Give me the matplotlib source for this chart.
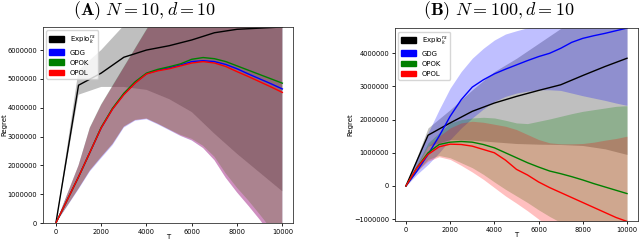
import matplotlib
matplotlib.use('Agg')
import matplotlib.pyplot as plt
from matplotlib.patches import Patch
import numpy as np

# x grids
T_coarse = [0, 1000, 2000, 3000, 4000, 5000, 6000, 7000, 8000, 9000, 10000]
T_fine = [0, 500, 1000, 1500, 2000, 2500, 3000, 3500, 4000, 4500, 5000,
          5500, 6000, 6500, 7000, 7500, 8000, 8500, 9000, 9500, 10000]

# ---- panel A (values in millions) ----
A_explo = [0, 4.78, 5.2, 5.75, 6.0, 6.15, 6.35, 6.6, 6.72, 6.76, 6.8]
A_explo_lo = [0, 4.45, 4.72, 4.72, 4.62, 4.3, 3.85, 3.1, 2.4, 1.75, 1.1]
A_explo_hi = [0, 5.3, 6.0, 6.85, 7.6, 8.2, 8.7, 9.2, 9.6, 10.0, 10.3]

A_gdg = [0, 0.8, 1.6, 2.45, 3.3, 3.96, 4.47, 4.87, 5.18, 5.3, 5.38,
         5.48, 5.6, 5.63, 5.6, 5.5, 5.35, 5.17, 5.0, 4.83, 4.65]
A_gdg_lo = [0, 0.58, 1.17, 1.79, 2.25, 2.7, 3.31, 3.55, 3.6, 3.42, 3.22,
            3.02, 2.86, 2.6, 2.18, 1.57, 1.06, 0.6, 0.12, -0.4, -0.9]
A_gdg_hi = [0, 1.0, 2.0, 3.3, 4.1, 4.75, 5.4, 6.05, 6.7, 7.3, 7.9,
            8.4, 8.9, 9.3, 9.7, 10.0, 10.3, 10.6, 10.9, 11.2, 11.5]

A_opok = [0, 0.8, 1.6, 2.45, 3.32, 3.98, 4.5, 4.9, 5.2, 5.33, 5.42,
          5.52, 5.68, 5.74, 5.7, 5.6, 5.45, 5.3, 5.15, 5.0, 4.85]
A_opok_lo = [0, 0.6, 1.2, 1.83, 2.3, 2.75, 3.35, 3.58, 3.63, 3.45, 3.25,
             3.06, 2.92, 2.68, 2.3, 1.72, 1.22, 0.78, 0.3, -0.2, -0.7]
A_opok_hi = [0, 1.0, 2.0, 3.32, 4.12, 4.77, 5.42, 6.07, 6.72, 7.32, 7.92,
             8.42, 8.92, 9.32, 9.72, 10.0, 10.3, 10.6, 10.9, 11.2, 11.5]

A_opol = [0, 0.8, 1.6, 2.45, 3.3, 3.95, 4.45, 4.85, 5.17, 5.28, 5.35,
          5.45, 5.55, 5.6, 5.55, 5.43, 5.25, 5.08, 4.9, 4.72, 4.53]
A_opol_lo = [0, 0.6, 1.2, 1.82, 2.29, 2.74, 3.34, 3.57, 3.62, 3.44, 3.24,
             3.03, 2.87, 2.6, 2.18, 1.57, 1.06, 0.6, 0.12, -0.4, -0.9]
A_opol_hi = [0, 1.0, 2.0, 3.3, 4.1, 4.75, 5.4, 6.05, 6.7, 7.3, 7.9,
             8.4, 8.9, 9.3, 9.7, 10.0, 10.3, 10.6, 10.9, 11.2, 11.5]

# ---- panel B (values in millions) ----
B_explo = [0, 1.53, 1.9, 2.25, 2.5, 2.7, 2.88, 3.05, 3.33, 3.6, 3.85]
B_explo_lo = [0, 1.2, 1.4, 1.38, 1.33, 1.28, 1.26, 1.25, 1.22, 1.12, 0.95]
B_explo_hi = [0, 1.75, 2.3, 2.9, 3.45, 3.85, 4.3, 4.75, 5.2, 5.6, 6.0]

B_gdg = [0, 0.45, 0.95, 1.5, 2.1, 2.6, 2.98, 3.2, 3.38, 3.52, 3.65,
         3.78, 3.9, 4.0, 4.15, 4.33, 4.45, 4.53, 4.6, 4.68, 4.76]
B_gdg_lo = [0, 0.35, 0.65, 1.0, 1.4, 1.75, 2.05, 2.32, 2.55, 2.7, 2.8,
            2.86, 2.9, 2.9, 2.88, 2.8, 2.72, 2.65, 2.58, 2.5, 2.43]
B_gdg_hi = [0, 0.8, 1.6, 2.3, 2.95, 3.45, 3.85, 4.15, 4.4, 4.58, 4.68,
            4.77, 4.85, 4.92, 5.0, 5.1, 5.2, 5.3, 5.4, 5.5, 5.6]

B_opok = [0, 0.55, 1.0, 1.25, 1.32, 1.34, 1.32, 1.25, 1.15, 1.0, 0.85,
          0.7, 0.57, 0.45, 0.37, 0.28, 0.18, 0.07, -0.03, -0.13, -0.23]
B_opok_lo = [0, 0.45, 0.8, 0.92, 0.85, 0.7, 0.55, 0.35, 0.12, -0.1, -0.3,
             -0.5, -0.72, -0.92, -1.1, -1.3, -1.5, -1.7, -1.9, -2.1, -2.3]
B_opok_hi = [0, 0.65, 1.3, 1.6, 1.9, 2.0, 2.05, 2.07, 2.05, 1.98, 1.9,
             1.88, 1.95, 2.02, 2.1, 2.18, 2.25, 2.3, 2.35, 2.4, 2.42]

B_opol = [0, 0.55, 0.95, 1.18, 1.26, 1.25, 1.2, 1.1, 1.0, 0.78, 0.5,
          0.33, 0.12, -0.05, -0.2, -0.35, -0.5, -0.65, -0.8, -0.95, -1.07]
B_opol_lo = [0, 0.45, 0.75, 0.88, 0.8, 0.62, 0.42, 0.2, -0.05, -0.3, -0.52,
             -0.75, -1.0, -1.25, -1.5, -1.75, -2.0, -2.2, -2.4, -2.6, -2.8]
B_opol_hi = [0, 0.65, 1.2, 1.5, 1.75, 1.9, 1.95, 1.92, 1.86, 1.8, 1.7,
             1.55, 1.4, 1.3, 1.27, 1.27, 1.28, 1.32, 1.38, 1.43, 1.5]

labels = ['Explo$^{rs}_{k}$', 'GDG', 'OPOK', 'OPOL']
colors = ['black', 'blue', 'green', 'red']

M = 1e6

fig = plt.figure(figsize=(6.4, 2.42), dpi=100)
axA = fig.add_axes([0.067, 0.0785, 0.391, 0.81])
axB = fig.add_axes([0.617, 0.087, 0.38, 0.797])


def draw(ax, series):
    # bands first, then the mean curves
    for (x, m, lo, hi), c in zip(series, colors):
        ax.fill_between(x, np.array(lo) * M, np.array(hi) * M, color=c, alpha=0.25, linewidth=0)
    for (x, m, lo, hi), c in zip(series, colors):
        ax.plot(x, np.array(m) * M, color=c, linewidth=1.0)
    handles = [Patch(color=c, label=l) for c, l in zip(colors, labels)]
    ax.legend(handles=handles, loc='upper left', fontsize=5, handlelength=2.2,
              handleheight=0.9, borderaxespad=0.5, labelspacing=0.55)
    ax.set_xticks([0, 2000, 4000, 6000, 8000, 10000])
    ax.ticklabel_format(style='plain', useOffset=False)
    ax.tick_params(labelsize=4.8, length=2.5, width=0.6, pad=1.5)
    ax.set_xlabel('T', fontsize=5, labelpad=-0.5)
    ax.set_ylabel('Regret', fontsize=5, labelpad=0.5)
    for s in ax.spines.values():
        s.set_linewidth(0.6)
        s.set_color('#333333')


draw(axA, [(T_coarse, A_explo, A_explo_lo, A_explo_hi),
           (T_fine, A_gdg, A_gdg_lo, A_gdg_hi),
           (T_fine, A_opok, A_opok_lo, A_opok_hi),
           (T_fine, A_opol, A_opol_lo, A_opol_hi)])
axA.set_xlim(-575, 10475)
axA.set_ylim(0, 6.8 * M)
axA.set_yticks(np.arange(0, 7) * M)

draw(axB, [(T_coarse, B_explo, B_explo_lo, B_explo_hi),
           (T_fine, B_gdg, B_gdg_lo, B_gdg_hi),
           (T_fine, B_opok, B_opok_lo, B_opok_hi),
           (T_fine, B_opol, B_opol_lo, B_opol_hi)])
axB.set_xlim(-500, 10500)
axB.set_ylim(-1.055 * M, 4.76 * M)
axB.set_yticks(np.arange(-1, 5) * M)

fig.text(0.226, 0.957, r'$\mathbf{(A)}\ N = 10, d = 10$', ha='center', va='center',
         fontsize=13, math_fontfamily='cm')
fig.text(0.78, 0.957, r'$\mathbf{(B)}\ N = 100, d = 10$', ha='center', va='center',
         fontsize=13, math_fontfamily='cm')

fig.savefig('out.png', dpi=100)
